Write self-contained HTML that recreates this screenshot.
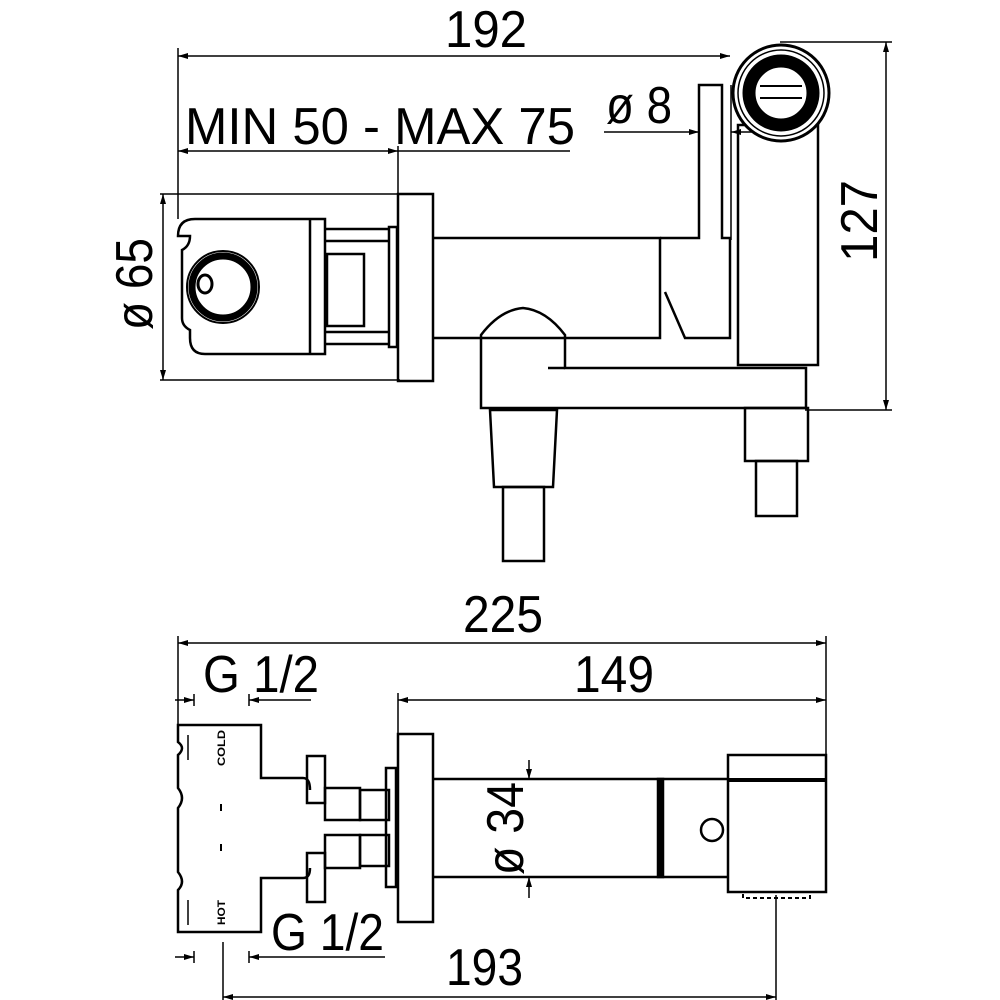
<!DOCTYPE html>
<html><head><meta charset="utf-8"><style>
html,body{margin:0;padding:0;background:#fff;}
svg{display:block;}
text{font-family:"Liberation Sans Narrow","Liberation Sans",sans-serif;fill:#000;}
</style></head><body>
<svg width="1000" height="1000" viewBox="0 0 1000 1000" xmlns="http://www.w3.org/2000/svg">
<defs>
<marker id="a" viewBox="0 0 10 6" refX="10" refY="3" markerWidth="10" markerHeight="6" orient="auto-start-reverse" markerUnits="userSpaceOnUse"><path d="M0,0 L10,3 L0,6 z" fill="#000"/></marker>
</defs>
<g fill="none" stroke="#000" stroke-width="1.5">
<line x1="178" y1="56" x2="730" y2="56" marker-start="url(#a)" marker-end="url(#a)"/>
<line x1="178" y1="48" x2="178" y2="219"/>
<line x1="178" y1="151" x2="398" y2="151" marker-start="url(#a)" marker-end="url(#a)"/>
<line x1="398" y1="151" x2="570" y2="151"/>
<line x1="398" y1="146" x2="398" y2="194"/>
<line x1="604" y1="132" x2="699" y2="132" marker-end="url(#a)"/>
<line x1="760" y1="132" x2="731" y2="132" marker-end="url(#a)"/>
<line x1="780" y1="42" x2="892" y2="42"/>
<line x1="805" y1="410" x2="892" y2="410"/>
<line x1="886" y1="42" x2="886" y2="410" marker-start="url(#a)" marker-end="url(#a)"/>
<line x1="160" y1="194" x2="400" y2="194"/>
<line x1="160" y1="380" x2="400" y2="380"/>
<line x1="163" y1="194" x2="163" y2="380" marker-start="url(#a)" marker-end="url(#a)"/>
</g>
<g fill="none" stroke="#000" stroke-width="2.5">
<rect x="398" y="194" width="35" height="187"/>
<path d="M178,236 Q178,219 195,219 H325 V354 H205 Q190,354 190,338 V330 Q182,326 182,318 V250 Q190,246 190,236 Z"/>
<line x1="310" y1="219" x2="310" y2="354"/>
<line x1="325" y1="229" x2="389" y2="229"/>
<line x1="325" y1="241" x2="389" y2="241"/>
<line x1="325" y1="332" x2="389" y2="332"/>
<line x1="325" y1="344" x2="389" y2="344"/>
<rect x="327" y="254" width="37" height="72"/>
<rect x="389" y="227" width="8" height="120"/>
<path d="M433,238 H660 V338 H433"/>
<path d="M660,238 H699 V85 H722 V238 H730 V338 H685 L665,292"/>
<line x1="731" y1="85" x2="731" y2="240" stroke-width="1.5"/>
<rect x="738" y="125" width="80" height="240"/>
<path d="M481,408 V335 Q500,310 523,308 Q546,310 565,335 V368 H806 V408 Z"/>
<line x1="548" y1="368" x2="565" y2="368"/>
<path d="M490,410 H557 L553,487 H494 Z"/>
<rect x="503" y="487" width="41" height="74"/>
<rect x="745" y="408" width="63" height="53"/>
<rect x="756" y="461" width="41" height="55"/>
</g>
<circle cx="781" cy="93" r="48" fill="#fff" stroke="#000" stroke-width="3"/>
<circle cx="781" cy="93" r="43" fill="none" stroke="#000" stroke-width="1.5"/>
<circle cx="781" cy="93" r="32" fill="none" stroke="#000" stroke-width="13"/>
<line x1="760" y1="86" x2="802" y2="86" stroke="#000" stroke-width="2"/>
<line x1="760" y1="98" x2="802" y2="98" stroke="#000" stroke-width="2"/>
<circle cx="223" cy="287" r="36" fill="#fff" stroke="#000" stroke-width="2"/>
<circle cx="223" cy="287" r="31" fill="none" stroke="#000" stroke-width="7"/>
<ellipse cx="205" cy="284" rx="7" ry="9" fill="none" stroke="#000" stroke-width="3"/>

<g fill="none" stroke="#000" stroke-width="1.5">
<line x1="178" y1="643" x2="826" y2="643" marker-start="url(#a)" marker-end="url(#a)"/>
<line x1="178" y1="636" x2="178" y2="725"/>
<line x1="826" y1="636" x2="826" y2="755"/>
<line x1="175" y1="700" x2="194" y2="700" marker-end="url(#a)"/>
<line x1="311" y1="700" x2="249" y2="700" marker-end="url(#a)"/>
<line x1="194" y1="694" x2="194" y2="706"/><line x1="249" y1="694" x2="249" y2="706"/>
<line x1="398" y1="700" x2="826" y2="700" marker-start="url(#a)" marker-end="url(#a)"/>
<line x1="398" y1="693" x2="398" y2="734"/>
<line x1="529" y1="760" x2="529" y2="779" marker-end="url(#a)"/>
<line x1="529" y1="898" x2="529" y2="877" marker-end="url(#a)"/>
<line x1="175" y1="957" x2="194" y2="957" marker-end="url(#a)"/>
<line x1="385" y1="957" x2="249" y2="957" marker-end="url(#a)"/>
<line x1="194" y1="951" x2="194" y2="963"/><line x1="249" y1="951" x2="249" y2="963"/>
<line x1="223" y1="942" x2="223" y2="1000"/>
<line x1="776" y1="895" x2="776" y2="1000"/>
<line x1="223" y1="997" x2="776" y2="997" marker-start="url(#a)" marker-end="url(#a)"/>
</g>
<g fill="none" stroke="#000" stroke-width="2.5">
<path d="M310,790 Q310,778 303,778 H261 V725 H178 V742 Q186,748 178,755 V788 Q186,798 178,808 V872 Q186,882 178,890 V932 H261 V878 H303 Q310,878 310,868"/>
<line x1="188" y1="735" x2="188" y2="760" stroke-width="1.5"/>
<line x1="188" y1="900" x2="188" y2="925" stroke-width="1.5"/>
<rect x="307" y="756" width="18" height="47"/>
<rect x="307" y="853" width="18" height="49"/>
<rect x="325" y="788" width="35" height="32"/>
<rect x="360" y="790" width="29" height="30"/>
<rect x="325" y="835" width="35" height="33"/>
<rect x="360" y="835" width="29" height="31"/>
<rect x="386" y="768" width="10" height="119"/>
<rect x="398" y="734" width="35" height="188"/>
<path d="M433,779 H728 M433,877 H728"/>
<rect x="658" y="779" width="5" height="98" fill="#000"/>
<rect x="728" y="755" width="98" height="137"/>
<line x1="728" y1="780" x2="826" y2="780" stroke-width="4"/>
<circle cx="712" cy="830" r="11"/>
<rect x="743" y="892" width="67" height="6" stroke-width="2" stroke-dasharray="4 3"/>
</g>
<line x1="221" y1="804" x2="221" y2="811" stroke="#000" stroke-width="2"/>
<line x1="221" y1="844" x2="221" y2="851" stroke="#000" stroke-width="2"/>

<g font-size="52">
<text x="445" y="47" textLength="82" lengthAdjust="spacingAndGlyphs">192</text>
<text x="185" y="144" textLength="390" lengthAdjust="spacingAndGlyphs">MIN  50 - MAX 75</text>
<text x="606" y="123" textLength="66" lengthAdjust="spacingAndGlyphs">ø 8</text>
<text transform="translate(877,262) rotate(-90)" textLength="82" lengthAdjust="spacingAndGlyphs">127</text>
<text transform="translate(152,330) rotate(-90)" textLength="92" lengthAdjust="spacingAndGlyphs">ø 65</text>
<text x="463" y="632" textLength="80" lengthAdjust="spacingAndGlyphs">225</text>
<text x="203" y="692" textLength="116" lengthAdjust="spacingAndGlyphs">G 1/2</text>
<text x="574" y="692" textLength="80" lengthAdjust="spacingAndGlyphs">149</text>
<text transform="translate(523,875) rotate(-90)" textLength="93" lengthAdjust="spacingAndGlyphs">ø 34</text>
<text x="271" y="950" textLength="113" lengthAdjust="spacingAndGlyphs">G 1/2</text>
<text x="446" y="985" textLength="77" lengthAdjust="spacingAndGlyphs">193</text>
</g>
<g font-size="11" font-weight="bold">
<text transform="translate(225,766) rotate(-90)" textLength="36" lengthAdjust="spacingAndGlyphs">COLD</text>
<text transform="translate(225,925) rotate(-90)" textLength="25" lengthAdjust="spacingAndGlyphs">HOT</text>
</g>
</svg>
</body></html>
